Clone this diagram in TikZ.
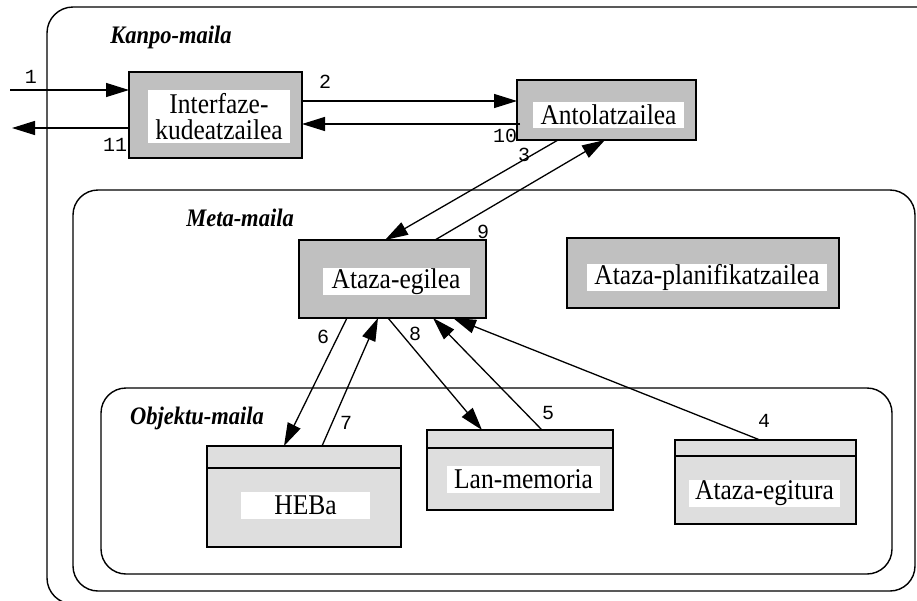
\documentclass[tikz,border=0pt]{standalone}
\usepackage{fontspec}
\setmainfont{Liberation Serif}
\setmonofont{Liberation Mono}
\usetikzlibrary{arrows.meta,calc}
\definecolor{boxdark}{HTML}{C0C0C0}
\definecolor{boxlight}{HTML}{DEDEDE}
\newcommand{\tallt}[1]{\scalebox{1}[1.12]{#1}}
\begin{document}
\begin{tikzpicture}[x=1pt,y=-1pt,
  every node/.style={inner sep=0pt,outer sep=0pt},
  darkbox/.style={draw=black,line width=1.4pt,fill=boxdark,rectangle},
  lightbox/.style={draw=black,line width=1.4pt,fill=boxlight,rectangle},
  lbl/.style={fill=white,font=\fontsize{25.5}{27}\selectfont,align=center},
  num/.style={font=\ttfamily\fontsize{20}{20}\selectfont},
  level/.style={font=\bfseries\itshape\fontsize{22.5}{22.5}\selectfont},
  arr/.style={line width=1.3pt,-{Triangle[length=23pt,width=14pt]}},
  frame/.style={draw=black,line width=1.4pt,rounded corners=26pt},
  hline/.style={line width=1.4pt}]
\useasboundingbox (0,0) rectangle (917,600);
\begin{scope}
\clip (0,0) rectangle (917,600);
\draw[frame] (47,7) rectangle (960,604);
\end{scope}
\draw[frame,rounded corners=25pt] (73,190) rectangle (915,591);
\draw[frame,rounded corners=25pt] (101,388) rectangle (892,574);

% level titles
\node[level] (kanpo) at (171,37) {\tallt{Kanpo-maila}};
\node[level] (meta) at (240,218) {\tallt{Meta-maila}};
\node[level] (objektu) at (197,418) {\tallt{Objektu-maila}};

% dark boxes
\node[darkbox,minimum width=173pt,minimum height=86pt] (inter) at (215.5,115) {};
\node[lbl,minimum width=142pt,minimum height=53pt] (interL) at (219,116.5) {\tallt{Interfaze-}\\[-1pt]\tallt{kudeatzailea}};
\node[darkbox,minimum width=179pt,minimum height=60pt] (anto) at (606.5,110) {};
\node[lbl,minimum width=151pt,minimum height=26pt] (antoL) at (608.5,115) {\tallt{Antolatzailea}};
\node[darkbox,minimum width=187pt,minimum height=78pt] (egile) at (392.5,279) {};
\node[lbl,minimum width=147pt,minimum height=27pt] (egileL) at (396,281.5) {\tallt{Ataza-egilea}};
\node[darkbox,minimum width=272pt,minimum height=70pt] (planif) at (703,273) {};
\node[lbl,minimum width=240pt,minimum height=27pt] (planifL) at (707,277.5) {\tallt{Ataza-planifikatzailea}};

% light boxes
\node[lightbox,minimum width=194pt,minimum height=101pt] (heba) at (304,496.5) {};
\draw[hline] ($(heba.north west)+(0,22)$) -- ($(heba.north east)+(0,22)$);
\node[lbl,minimum width=129pt,minimum height=27pt] (hebaL) at (305.5,505.5) {\tallt{HEBa}};
\node[lightbox,minimum width=186pt,minimum height=80pt] (lan) at (520,470) {};
\draw[hline] ($(lan.north west)+(0,18)$) -- ($(lan.north east)+(0,18)$);
\node[lbl,minimum width=153pt,minimum height=27pt] (lanL) at (523.5,479.5) {\tallt{Lan-memoria}};
\node[lightbox,minimum width=181pt,minimum height=84pt] (egit) at (765.5,482) {};
\draw[hline] ($(egit.north west)+(0,16)$) -- ($(egit.north east)+(0,16)$);
\node[lbl,minimum width=151pt,minimum height=27pt] (egitL) at (764.5,493.5) {\tallt{Ataza-egitura}};

% free ends
\coordinate (in1) at (10,90);
\coordinate (out11) at (12,128);

% connectors
\draw[arr] (in1) -- ([yshift=25pt]inter.west);
\draw[arr] ([yshift=-13pt]inter.west) -- (out11);
\draw[arr] ([yshift=14pt]inter.east) -- ([yshift=9pt]anto.west);
\draw[arr] ([xshift=3pt,yshift=-14pt]anto.west) -- ([yshift=-9pt]inter.east);
\draw[arr] ([xshift=-48.5pt]anto.south) -- ([xshift=-7.5pt]egile.north);
\draw[arr] ([xshift=42.5pt]egile.north) -- ([xshift=-1.5pt]anto.south);
\draw[arr] ([xshift=-45.5pt]egile.south) -- ([xshift=-20pt]heba.north);
\draw[arr] ([xshift=18pt]heba.north) -- ([xshift=-14.5pt]egile.south);
\draw[arr] ([xshift=-4.5pt]egile.south) -- ([xshift=-38pt]lan.north);
\draw[arr] ([xshift=22pt]lan.north) -- ([xshift=40.5pt]egile.south);
\draw[arr] ([xshift=-5.5pt]egit.north) -- ([xshift=60.5pt]egile.south);

% numbers
\node[num] (n1) at (31,77) {1};
\node[num] (n11) at (115,145) {11};
\node[num] (n2) at (325,82) {2};
\node[num] (n10) at (505,136) {10};
\node[num] (n3) at (524,155) {3};
\node[num] (n9) at (483,232) {9};
\node[num] (n6) at (323,337) {6};
\node[num] (n7) at (346,423) {7};
\node[num] (n8) at (415,334) {8};
\node[num] (n5) at (548,413) {5};
\node[num] (n4) at (764,421) {4};
\end{tikzpicture}
\end{document}
